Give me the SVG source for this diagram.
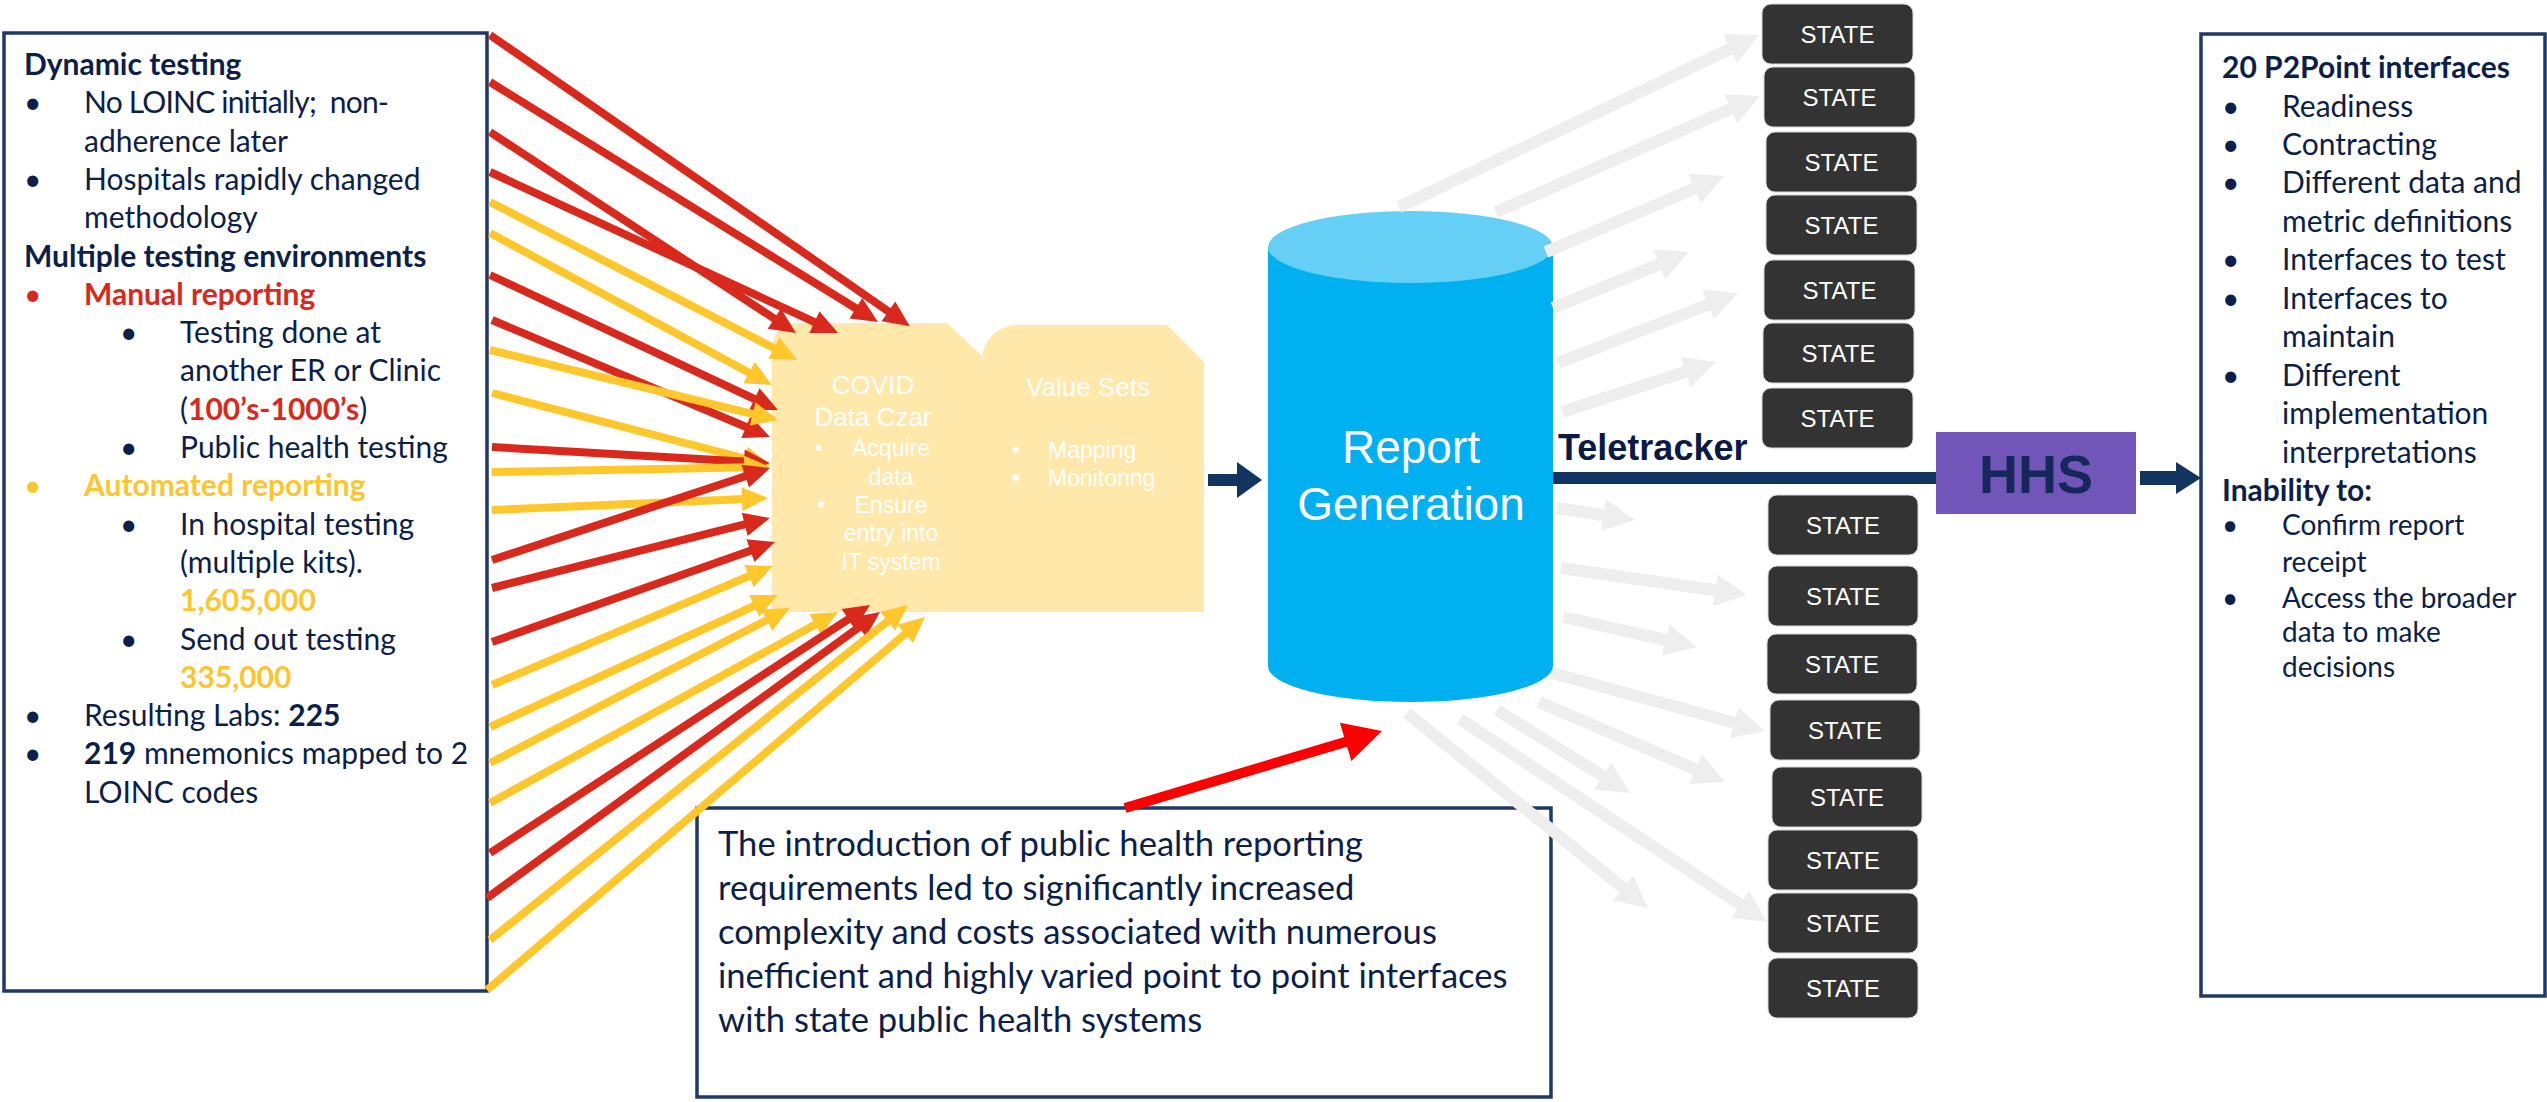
<svg xmlns="http://www.w3.org/2000/svg" width="2547" height="1102" viewBox="0 0 2547 1102">
<style>
.t{font-family:Lato,"Open Sans",sans-serif;font-size:30px;fill:#0c1f4a}
.s{font-size:28px}
.n{font-size:34.6px}
.b{font-weight:bold}
.red{fill:#d9291c}
.yel{fill:#fdc52f}
.w{font-family:"Liberation Sans",Arial,sans-serif;fill:#ffffff}
.c{text-anchor:middle}
.st{font-family:"Liberation Sans",Arial,sans-serif;font-size:24px;fill:#ffffff;text-anchor:middle}
.box{fill:#ffffff;stroke:#1f3864;stroke-width:3.5}
.sbox{fill:#333333;stroke:#d6d6d6;stroke-width:1}
.pad{fill:#ffe8a9}
.fr{stroke:#d9291c;stroke-width:8;fill:none;marker-end:url(#hr)}
.fy{stroke:#ffc72c;stroke-width:8;fill:none;marker-end:url(#hy)}
.g{stroke:#eeeeee;stroke-width:12;fill:none;marker-end:url(#hg)}
.nv{fill:#12355f}
</style>
<defs>
<marker id="hr" markerUnits="userSpaceOnUse" markerWidth="26" markerHeight="24" refX="8" refY="12" orient="auto" overflow="visible"><path d="M0,0L26,12L0,24Z" fill="#d9291c"/></marker>
<marker id="hy" markerUnits="userSpaceOnUse" markerWidth="26" markerHeight="24" refX="8" refY="12" orient="auto" overflow="visible"><path d="M0,0L26,12L0,24Z" fill="#ffc72c"/></marker>
<marker id="hg" markerUnits="userSpaceOnUse" markerWidth="32" markerHeight="32" refX="10" refY="16" orient="auto" overflow="visible"><path d="M0,0L32,16L0,32Z" fill="#eeeeee"/></marker>
<marker id="hbig" markerUnits="userSpaceOnUse" markerWidth="38" markerHeight="40" refX="8" refY="20" orient="auto" overflow="visible"><path d="M0,0L38,20L0,40Z" fill="#ff0000"/></marker>
</defs>
<rect x="0" y="0" width="2547" height="1102" fill="#ffffff"/>

<g id="left-box">
<rect class="box" x="4" y="33" width="483" height="958"/>
<text class="t b" x="24" y="75">Dynamic testing</text>
<text class="t" x="24" y="113.3">•</text><text class="t" x="84" y="113.3" xml:space="preserve" textLength="305" lengthAdjust="spacing">No LOINC initially;  non-</text>
<text class="t" x="84" y="151.6">adherence later</text>
<text class="t" x="24" y="189.9">•</text><text class="t" x="84" y="189.9">Hospitals rapidly changed</text>
<text class="t" x="84" y="228.2">methodology</text>
<text class="t b" x="24" y="266.5">Multiple testing environments</text>
<text class="t red" x="24" y="304.8">•</text><text class="t b red" x="84" y="304.8">Manual reporting</text>
<text class="t" x="120" y="343.1">•</text><text class="t" x="180" y="343.1">Testing done at</text>
<text class="t" x="180" y="381.4">another ER or Clinic</text>
<text class="t" x="180" y="419.7">(<tspan class="b red">100’s-1000’s</tspan>)</text>
<text class="t" x="120" y="458">•</text><text class="t" x="180" y="458">Public health testing</text>
<text class="t yel" x="24" y="496.3">•</text><text class="t b yel" x="84" y="496.3">Automated reporting</text>
<text class="t" x="120" y="534.6">•</text><text class="t" x="180" y="534.6">In hospital testing</text>
<text class="t" x="180" y="572.9">(multiple kits).</text>
<text class="t b yel" x="180" y="611.2">1,605,000</text>
<text class="t" x="120" y="649.5">•</text><text class="t" x="180" y="649.5">Send out testing</text>
<text class="t b yel" x="180" y="687.8">335,000</text>
<text class="t" x="24" y="726.1">•</text><text class="t" x="84" y="726.1">Resulting Labs: <tspan class="b">225</tspan></text>
<text class="t" x="24" y="764.4">•</text><text class="t" x="84" y="764.4"><tspan class="b">219</tspan> mnemonics mapped to 2</text>
<text class="t" x="84" y="802.7">LOINC codes</text>
</g>

<g id="covid-data-czar">
<path class="pad" d="M772,612 L772,351 Q772,323 800,323 L947,323 L982,356 L982,612 Z"/>
<text class="w c" x="873" y="394" font-size="26">COVID</text>
<text class="w c" x="873" y="426" font-size="26">Data Czar</text>
<text class="w" x="815" y="456" font-size="23">•</text>
<text class="w c" x="891" y="456" font-size="23">Acquire</text>
<text class="w c" x="891" y="485" font-size="23">data</text>
<text class="w" x="817" y="513" font-size="23">•</text>
<text class="w c" x="891" y="513" font-size="23">Ensure</text>
<text class="w c" x="891" y="541" font-size="23">entry into</text>
<text class="w c" x="891" y="570" font-size="23">IT system</text>
</g>

<g id="value-sets">
<path class="pad" d="M982,612 L982,360 A35,35 0 0 1 1017,325 L1167,325 L1204,362 L1204,612 Z"/>
<text class="w c" x="1088" y="396" font-size="26">Value Sets</text>
<text class="w" x="1012" y="458" font-size="23">•</text>
<text class="w" x="1048" y="458" font-size="23">Mapping</text>
<text class="w" x="1012" y="486" font-size="23">•</text>
<text class="w" x="1048" y="486" font-size="23">Monitoring</text>
</g>

<g id="report-generation">
<path d="M1268,247 L1268,666 A142.5,36 0 0 0 1553,666 L1553,247 Z" fill="#00b0f0"/>
<ellipse cx="1410.5" cy="247" rx="142.5" ry="36" fill="#66cff5"/>
<text class="w c" x="1411" y="463" font-size="46">Report</text>
<text class="w c" x="1411" y="520" font-size="46">Generation</text>
</g>

<g id="state-1"><rect class="sbox" x="1762" y="4" width="151" height="60" rx="9"/><text class="st" x="1837.5" y="42.5">STATE</text></g>
<g id="state-2"><rect class="sbox" x="1764" y="67" width="151" height="60" rx="9"/><text class="st" x="1839.5" y="105.5">STATE</text></g>
<g id="state-3"><rect class="sbox" x="1766" y="132" width="151" height="60" rx="9"/><text class="st" x="1841.5" y="170.5">STATE</text></g>
<g id="state-4"><rect class="sbox" x="1766" y="195" width="151" height="60" rx="9"/><text class="st" x="1841.5" y="233.5">STATE</text></g>
<g id="state-5"><rect class="sbox" x="1764" y="260" width="151" height="60" rx="9"/><text class="st" x="1839.5" y="298.5">STATE</text></g>
<g id="state-6"><rect class="sbox" x="1763" y="323" width="151" height="60" rx="9"/><text class="st" x="1838.5" y="361.5">STATE</text></g>
<g id="state-7"><rect class="sbox" x="1762" y="388" width="151" height="60" rx="9"/><text class="st" x="1837.5" y="426.5">STATE</text></g>
<g id="state-8"><rect class="sbox" x="1768" y="495" width="150" height="60" rx="9"/><text class="st" x="1843" y="533.5">STATE</text></g>
<g id="state-9"><rect class="sbox" x="1768" y="566" width="150" height="60" rx="9"/><text class="st" x="1843" y="604.5">STATE</text></g>
<g id="state-10"><rect class="sbox" x="1767" y="634" width="150" height="60" rx="9"/><text class="st" x="1842" y="672.5">STATE</text></g>
<g id="state-11"><rect class="sbox" x="1770" y="700" width="150" height="60" rx="9"/><text class="st" x="1845" y="738.5">STATE</text></g>
<g id="state-12"><rect class="sbox" x="1772" y="767" width="150" height="60" rx="9"/><text class="st" x="1847" y="805.5">STATE</text></g>
<g id="state-13"><rect class="sbox" x="1768" y="830" width="150" height="60" rx="9"/><text class="st" x="1843" y="868.5">STATE</text></g>
<g id="state-14"><rect class="sbox" x="1768" y="893" width="150" height="60" rx="9"/><text class="st" x="1843" y="931.5">STATE</text></g>
<g id="state-15"><rect class="sbox" x="1768" y="958" width="150" height="60" rx="9"/><text class="st" x="1843" y="996.5">STATE</text></g>

<g id="hhs">
<rect x="1936" y="432" width="200" height="82" fill="#7155b9"/>
<text x="2036" y="493" font-family="Liberation Sans, Arial, sans-serif" font-size="54" font-weight="bold" fill="#16285a" text-anchor="middle">HHS</text>
</g>

<g id="right-box">
<rect class="box" x="2201" y="34" width="344" height="962"/>
<text class="t b" x="2222" y="78">20 P2Point interfaces</text>
<text class="t" x="2222" y="116.5">•</text><text class="t" x="2282" y="116.5">Readiness</text>
<text class="t" x="2222" y="154.9">•</text><text class="t" x="2282" y="154.9">Contracting</text>
<text class="t" x="2222" y="193.4">•</text><text class="t" x="2282" y="193.4">Different data and</text>
<text class="t" x="2282" y="231.8">metric definitions</text>
<text class="t" x="2222" y="270.3">•</text><text class="t" x="2282" y="270.3">Interfaces to test</text>
<text class="t" x="2222" y="308.7">•</text><text class="t" x="2282" y="308.7">Interfaces to</text>
<text class="t" x="2282" y="347.2">maintain</text>
<text class="t" x="2222" y="385.6">•</text><text class="t" x="2282" y="385.6">Different</text>
<text class="t" x="2282" y="424.1">implementation</text>
<text class="t" x="2282" y="462.5">interpretations</text>
<text class="t b" x="2222" y="501">Inability to:</text>
<text class="t s" x="2222" y="535">•</text><text class="t s" x="2282" y="535">Confirm report</text>
<text class="t s" x="2282" y="572">receipt</text>
<text class="t s" x="2222" y="608">•</text><text class="t s" x="2282" y="608">Access the broader</text>
<text class="t s" x="2282" y="642">data to make</text>
<text class="t s" x="2282" y="677">decisions</text>
</g>

<g id="note-box">
<rect class="box" x="697" y="808" width="854" height="289"/>
<text class="t n" x="718" y="856">The introduction of public health reporting</text>
<text class="t n" x="718" y="900">requirements led to significantly increased</text>
<text class="t n" x="718" y="944">complexity and costs associated with numerous</text>
<text class="t n" x="718" y="988">inefficient and highly varied point to point interfaces</text>
<text class="t n" x="718" y="1032">with state public health systems</text>
</g>

<g id="connectors">
<line class="fr" x1="490" y1="35" x2="895" y2="316"/>
<line class="fr" x1="490" y1="82" x2="862.7" y2="312.5"/>
<line class="fr" x1="490" y1="132" x2="781" y2="323"/>
<line class="fr" x1="490" y1="172" x2="821.7" y2="325.4"/>
<line class="fy" x1="490" y1="202" x2="781" y2="351.8"/>
<line class="fy" x1="490" y1="233" x2="756.1" y2="376.4"/>
<line class="fr" x1="490" y1="275" x2="761.7" y2="402.4"/>
<line class="fr" x1="492" y1="320" x2="753.4" y2="430"/>
<line class="fy" x1="490" y1="350" x2="760.5" y2="415.8"/>
<line class="fy" x1="492" y1="393" x2="752.6" y2="460.5"/>
<line class="fr" x1="492" y1="447" x2="752" y2="462"/>
<line class="fy" x1="492" y1="472" x2="752" y2="467.3"/>
<line class="fy" x1="492" y1="510" x2="750" y2="498.8"/>
<line class="fr" x1="492" y1="560" x2="752.9" y2="473.7"/>
<line class="fr" x1="492" y1="588" x2="752.5" y2="522.4"/>
<line class="fr" x1="492" y1="642" x2="758" y2="548"/>
<line class="fy" x1="492" y1="685" x2="756.4" y2="573"/>
<line class="fy" x1="490" y1="727" x2="761.6" y2="602.5"/>
<line class="fy" x1="490" y1="763" x2="774" y2="616.3"/>
<line class="fy" x1="490" y1="803" x2="822.2" y2="620.7"/>
<line class="fr" x1="490" y1="853" x2="855" y2="614.8"/>
<line class="fr" x1="487" y1="898" x2="865.4" y2="622.6"/>
<line class="fy" x1="490" y1="940" x2="894" y2="616.2"/>
<line class="fy" x1="487" y1="990" x2="911.3" y2="628.7"/>

<path class="nv" d="M1208,474 H1237 V462 L1262,480 L1237,498 V486 H1208 Z"/>

<line class="g" x1="1399" y1="207" x2="1739.2" y2="44.5"/>
<line class="g" x1="1496" y1="212" x2="1739.9" y2="104.8"/>
<line class="g" x1="1546" y1="252" x2="1703.8" y2="184.6"/>
<line class="g" x1="1553" y1="308" x2="1668.6" y2="260.4"/>
<line class="g" x1="1558" y1="363" x2="1717.5" y2="301"/>
<line class="g" x1="1562" y1="412" x2="1695.1" y2="368.8"/>
<line class="g" x1="1557" y1="508" x2="1613.3" y2="516.7"/>
<line class="g" x1="1561" y1="568" x2="1725.2" y2="591.8"/>
<line class="g" x1="1563" y1="617" x2="1675.5" y2="642.2"/>
<line class="g" x1="1552" y1="673" x2="1743.8" y2="725.2"/>
<line class="g" x1="1539" y1="702" x2="1704.8" y2="773.3"/>
<line class="g" x1="1497" y1="710" x2="1611.3" y2="781.4"/>
<line class="g" x1="1460" y1="719" x2="1748.7" y2="909.9"/>
<line class="g" x1="1407" y1="713" x2="1630.9" y2="894.2"/>

<line x1="1553" y1="478" x2="1936" y2="478" stroke="#12355f" stroke-width="12"/>
<text x="1558" y="460" font-family="Liberation Sans, Arial, sans-serif" font-size="36" font-weight="bold" fill="#0b1a45">Teletracker</text>
<path class="nv" d="M2140,471 H2176 V462 L2201,478 L2176,494 V485 H2140 Z"/>

<line x1="1125" y1="808" x2="1353.3" y2="739.6" stroke="#ff0000" stroke-width="10" marker-end="url(#hbig)"/>
</g>
</svg>
